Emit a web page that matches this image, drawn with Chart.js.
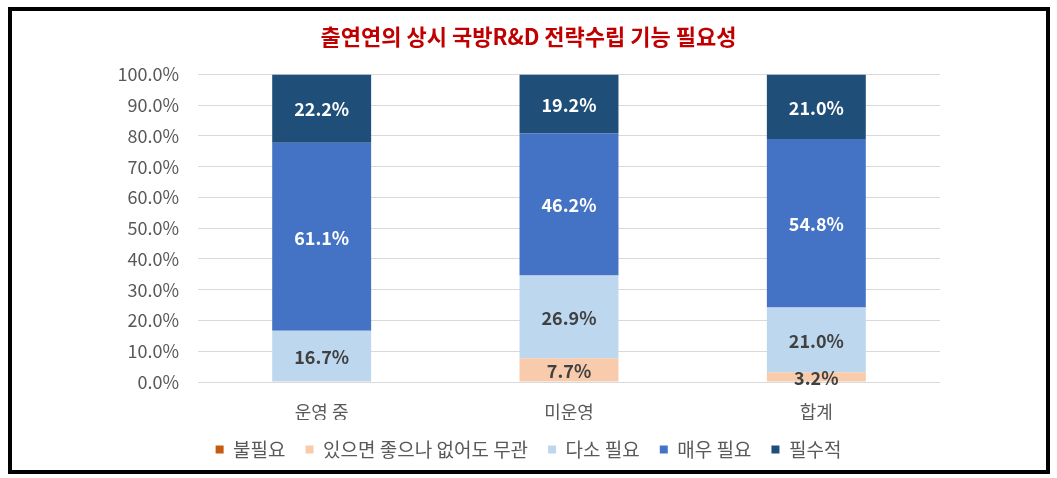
<!DOCTYPE html>
<html>
<head>
<meta charset="utf-8">
<script src="https://cdn.jsdelivr.net/npm/chart.js@4"></script>
<style>
  html, body { margin: 0; padding: 0; background: #fff; }
  #wrap { position: relative; width: 1057px; height: 478px; }
  #frame { position: absolute; left: 8px; top: 7px; width: 1034px; height: 459px;
           border: 4px solid #000; pointer-events: none; }
</style>
</head>
<body>
<div id="wrap">
  <canvas id="chartCanvas" width="1057" height="478"></canvas>
  <div id="frame"></div>
</div>
<script>
const ctx = document.getElementById('chartCanvas').getContext('2d');

// Data (percent)
const categories = ['운영 중', '미운영', '합계'];
const seriesNames = ['불필요', '있으면 좋으나 없어도 무관', '다소 필요', '매우 필요', '필수적'];
const notNeeded = [0, 0, 0];
const optional = [0, 7.7, 3.2];
const somewhat = [16.7, 26.9, 21.0];
const veryNeeded = [61.1, 46.2, 54.8];
const essential = [22.2, 19.2, 21.0];
const yTicks = [0, 10, 20, 30, 40, 50, 60, 70, 80, 90, 100];

const colors = ['#C55A11', '#F8CBAD', '#BDD7EE', '#4472C4', '#1F4E79'];
const labelColors = ['#404040', '#404040', '#404040', '#ffffff', '#ffffff'];
const font = "'Noto Sans CJK KR', 'Noto Sans', sans-serif";

// Draw value labels in the middle of each segment
const segmentLabels = {
    id: 'segmentLabels',
    afterDatasetsDraw(chart) {
        const c = chart.ctx;
        c.save();
        c.font = 'bold 18px ' + font;
        c.textAlign = 'center';
        c.textBaseline = 'middle';
        chart.data.datasets.forEach((ds, i) => {
            const meta = chart.getDatasetMeta(i);
            meta.data.forEach((bar, j) => {
                const v = ds.data[j];
                if (!v) return;
                const mid = (bar.y + bar.base) / 2;
                c.fillStyle = labelColors[i];
                c.fillText(v.toFixed(1) + '%', bar.x, mid + 1);
            });
        });
        c.restore();
    }
};

const allSeries = [notNeeded, optional, somewhat, veryNeeded, essential];

new Chart(ctx, {
    type: 'bar',
    data: {
        labels: categories,
        datasets: allSeries.map((d, i) => ({
            label: seriesNames[i],
            data: d,
            backgroundColor: colors[i],
            borderWidth: 0,
            categoryPercentage: 1,
            barPercentage: 0.4
        }))
    },
    options: {
        responsive: false,
        animation: false,
        devicePixelRatio: 1,
        layout: { padding: { left: 0, right: 0, top: 0, bottom: 9 } },
        scales: {
            x: {
                stacked: true,
                grid: { display: false },
                border: { display: false },
                ticks: { color: '#595959', font: { family: font, size: 18 }, padding: 11 },
                afterFit(scale) { scale.height = 38; }
            },
            y: {
                stacked: true,
                min: 0,
                max: 100,
                afterBuildTicks(scale) { scale.ticks = yTicks.map(v => ({ value: v })); },
                grid: { color: '#d9d9d9', drawTicks: false, lineWidth: 1 },
                border: { display: false },
                ticks: {
                    color: '#595959',
                    font: { family: font, size: 18 },
                    padding: 19,
                    callback: v => v.toFixed(1) + '%'
                },
                afterFit(scale) { scale.width = 198; }
            },
            // empty right axis, only reserves space so title and legend stay centred on the page
            yRight: {
                position: 'right',
                display: true,
                grid: { display: false },
                border: { display: false },
                ticks: { display: false },
                afterFit(scale) { scale.width = 117; }
            }
        },
        plugins: {
            title: {
                display: true,
                text: '출연연의 상시 국방R&D 전략수립 기능 필요성',
                color: '#C00000',
                font: { family: font, size: 22, weight: 'bold' },
                padding: { top: 23, bottom: 25 }
            },
            legend: {
                position: 'bottom',
                labels: {
                    color: '#595959',
                    font: { family: font, size: 19 },
                    boxWidth: 8,
                    boxHeight: 8,
                    padding: 20
                }
            },
            tooltip: { enabled: false }
        }
    },
    plugins: [segmentLabels]
});
</script>
</body>
</html>
